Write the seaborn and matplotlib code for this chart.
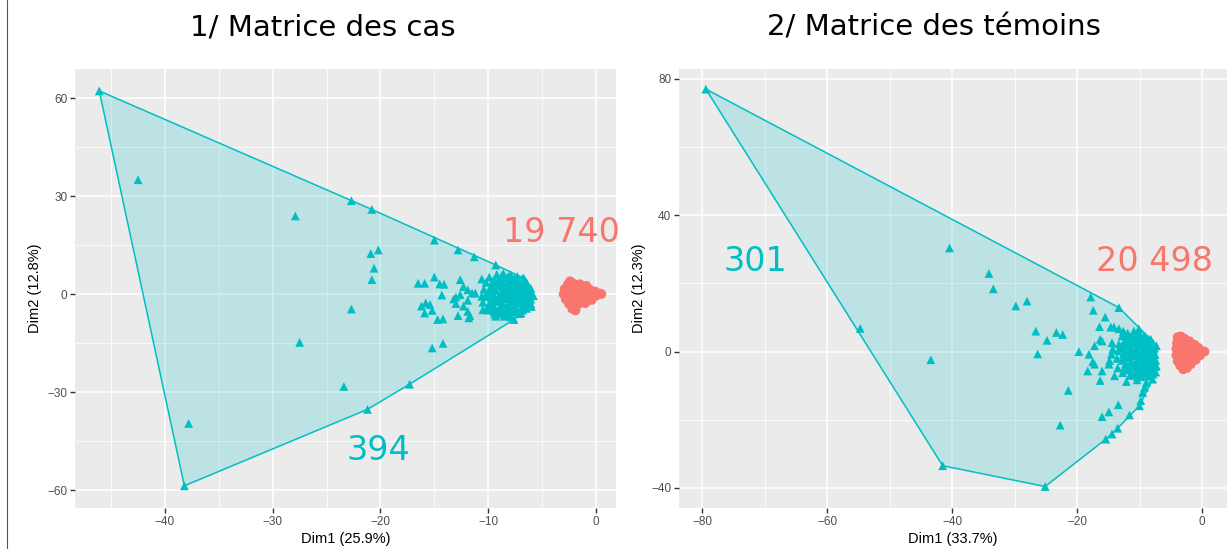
import numpy as np
import pandas as pd
import matplotlib
matplotlib.use("Agg")
import matplotlib.pyplot as plt
from matplotlib.ticker import AutoMinorLocator, FixedLocator
from matplotlib.lines import Line2D
import seaborn as sns

# ---- 1/ Matrice des cas ----
cas_teal_x = [-46.1, -38.2, -21.2, -17.3, -7.6, -5.8, -6.7, -9.3, -11.3, -12.8, -15.0, -20.8, -22.7,
              -42.5, -27.9, -20.9, -20.2, -20.6, -20.8, -22.7, -27.5, -23.4, -37.8, -15.2, -14.2,
              -16.5, -15.9, -15.0, -14.5, -14.1, -14.3, -15.8, -16.2, -15.4, -15.2, -15.9, -14.7, -14.2,
              -13.2, -13.0, -12.6, -12.3, -11.9, -11.5, -12.6, -11.9, -13.0, -12.8, -11.9, -11.7, -11.8,
              -12.3, -11.2, -10.6, -10.1, -9.3, -8.5, -10.5, -9.7, -10.2,
              -9.9, -9.6, -9.8, -9.9, -9.7, -9.9, -9.6, -9.4,
              -9.2, -9.0, -9.1, -9.3, -9.0, -9.2, -8.9, -9.1,
              -8.6, -8.4, -8.6, -8.3, -8.5, -8.4, -8.6, -8.3, -8.5,
              -7.9, -7.8, -8.0, -7.7, -7.9, -7.8, -8.0, -7.7, -7.9,
              -7.3, -7.2, -7.4, -7.1, -7.3, -7.2, -7.4, -7.1,
              -6.8, -6.6, -6.8, -6.5, -6.7, -6.6, -6.8,
              -6.3, -6.1, -6.2, -6.3, -6.0, -5.9,
              -10.4, -10.3, -10.5, -10.2, -10.6, -10.0,
              -9.45, -9.45, -9.45, -9.45, -9.45, -9.45, -9.45,
              -8.75, -8.75, -8.75, -8.75, -8.75, -8.75, -8.75, -8.75,
              -8.15, -8.15, -8.15, -8.15, -8.15, -8.15, -8.15, -8.15,
              -7.55, -7.55, -7.55, -7.55, -7.55, -7.55, -7.55,
              -6.95, -6.95, -6.95, -6.95, -6.95, -6.95, -6.95,
              -6.45, -6.45, -6.45, -6.45, -6.45, -6.45,
              -6.05, -6.05, -6.05, -6.05]
cas_teal_y = [62.2, -58.7, -35.3, -27.6, -7.8, -0.5, 4.9, 8.9, 11.4, 13.5, 16.5, 25.9, 28.6,
              35.0, 23.9, 12.4, 13.5, 7.9, 4.4, -4.6, -14.8, -28.3, -39.6, -16.5, -15.1,
              3.3, 3.3, 5.2, 3.1, 3.0, -0.3, -2.7, -3.7, -3.2, -5.0, -5.8, -7.8, -7.6,
              -1.5, -0.9, 4.4, 2.3, 1.3, 0.3, -0.2, -1.9, -2.9, -6.6, -5.3, -6.6, -7.3,
              -3.7, 0.3, -0.7, -4.2, -6.8, -6.8, -4.8, -4.8, -0.2,
              5.2, 3.8, 2.1, 0.4, -1.3, -3.0, -4.6, -6.2,
              6.0, 4.5, 2.9, 1.2, -0.5, -2.2, -3.8, -5.4,
              6.3, 5.0, 3.5, 2.0, 0.3, -1.4, -3.1, -4.7, -6.5,
              5.9, 4.3, 2.8, 1.1, -0.6, -2.2, -3.9, -5.5, -7.0,
              5.4, 3.7, 2.2, 0.6, -1.0, -2.7, -4.3, -6.0,
              4.8, 3.1, 1.6, 0.0, -1.6, -3.3, -4.9,
              2.6, 1.0, -0.8, -2.4, -3.8, -0.5,
              1.5, -0.8, -2.5, 3.6, 4.6, -4.9,
              4.5, 3.0, 1.3, -0.4, -2.1, -3.8, -5.4,
              5.6, 3.9, 2.2, 0.5, -1.2, -2.9, -4.6, -6.0,
              5.5, 3.8, 2.1, 0.4, -1.3, -3.0, -4.7, -6.3,
              4.9, 3.2, 1.5, -0.2, -1.9, -3.6, -5.3,
              4.2, 2.5, 0.8, -0.9, -2.6, -4.3, -5.8,
              3.6, 1.9, 0.2, -1.5, -3.2, -4.4,
              1.8, 0.2, -1.6, -2.9]
cas_red_x = [-3.0, -2.9, -2.8, -2.6, -2.5, -2.4, -2.2, -1.9,
             -2.4, -2.5, -2.3, -2.4, -2.1, -1.9,
             -1.7, -1.6, -1.8, -1.7, -1.6,
             -1.2, -1.1, -1.3, -1.2, -1.0,
             -0.6, -0.5, -0.6, -0.4,
             -0.1, 0.0, 0.3, 0.5, -1.5, -0.9,
             -2.0, -2.0, -2.0, -1.4, -1.4, -0.8, -0.8, -0.3]
cas_red_y = [0.0, 1.6, -1.6, 3.0, -3.0, 3.9, -4.5, -5.0,
             1.8, 0.5, -1.1, -2.4, 3.2, -3.8,
             2.5, 1.1, -0.3, -1.6, -3.0,
             2.1, 0.7, -0.7, -2.0, -2.8,
             1.4, 0.2, -1.0, -1.8,
             0.8, -0.5, 0.2, 0.0, 3.0, 2.5,
             2.2, 0.2, -1.8, 1.8, -1.2, 1.0, -1.5, 0.6]

# ---- 2/ Matrice des témoins ----
tem_teal_x = [-79.4, -41.5, -25.1, -15.4, -13.5, -11.6, -9.8, -7.9, -7.3, -7.3, -8.2, -10.1, -13.3,
              -40.4, -34.1, -33.4, -29.8, -28.0, -54.7, -43.4, -26.6, -26.3, -24.8, -23.3, -22.3,
              -21.4, -22.7, -17.8, -17.4, -15.5, -16.4, -16.3, -16.0, -17.2, -19.7, -18.1, -17.5,
              -17.2, -18.3, -16.0, -16.3, -14.4, -14.3, -14.5, -14.8, -14.9, -14.0, -12.1, -10.4,
              -14.9, -16.0, -13.4, -14.4, -10.0, -9.5, -9.2, -8.9, -14.6, -14.1, -13.3, -12.6, -11.8,
              -12.8, -12.5, -12.9, -12.6, -12.8, -12.4, -12.7,
              -11.9, -11.6, -11.8, -11.5, -11.7, -11.4, -11.8, -11.5,
              -10.9, -10.7, -10.9, -10.6, -10.8, -10.5, -10.8, -10.6,
              -10.0, -9.8, -10.0, -9.7, -9.9, -9.6, -9.9, -9.7,
              -9.1, -8.9, -9.1, -8.8, -9.0, -8.7, -9.0,
              -8.3, -8.1, -8.3, -8.0, -8.2, -7.9, -8.2,
              -7.6, -7.5, -7.4, -7.5, -7.4,
              -13.4, -13.6, -13.3, -13.5,
              -12.2, -12.2, -12.2, -12.2, -12.2, -12.2,
              -11.3, -11.3, -11.3, -11.3, -11.3, -11.3, -11.3,
              -10.3, -10.3, -10.3, -10.3, -10.3, -10.3, -10.3, -10.3,
              -9.4, -9.4, -9.4, -9.4, -9.4, -9.4, -9.4,
              -8.6, -8.6, -8.6, -8.6, -8.6, -8.6, -8.6,
              -7.8, -7.8, -7.8, -7.8, -7.8, -7.8]
tem_teal_y = [77.0, -33.5, -39.6, -25.7, -22.5, -18.6, -14.4, -8.1, -4.2, 1.7, 3.6, 6.7, 12.9,
              30.4, 22.9, 18.4, 13.4, 14.8, 6.8, -2.4, 6.0, -0.7, 3.3, 5.6, 5.0,
              -11.4, -21.6, 16.0, 12.1, 10.1, 7.3, 3.6, 3.1, 1.7, 0.0, -0.8, -3.0,
              -3.7, -5.7, -5.7, -8.5, 2.6, 0.7, -0.8, -2.7, -3.7, -7.1, -8.8, -8.3,
              -17.7, -19.1, -15.6, -24.2, -15.9, -12.0, -10.5, -9.1, 7.2, 7.2, 6.7, 6.0, 4.4,
              4.6, 2.8, 1.0, -0.8, -2.6, -4.4, -6.2,
              5.4, 3.6, 1.8, 0.0, -1.8, -3.6, -5.4, -7.0,
              6.0, 4.2, 2.4, 0.6, -1.2, -3.0, -4.8, -6.6,
              5.2, 3.4, 1.6, -0.2, -2.0, -3.8, -5.6, -7.4,
              4.4, 2.6, 0.8, -1.0, -2.8, -4.6, -6.4,
              3.4, 1.6, -0.2, -2.0, -3.8, -5.6, -7.2,
              1.0, -0.8, -2.6, -4.4, -6.0,
              0.2, -2.0, 2.2, -4.8,
              3.7, 1.9, 0.1, -1.7, -3.5, -5.3,
              4.5, 2.7, 0.9, -0.9, -2.7, -4.5, -6.3,
              5.1, 3.3, 1.5, -0.3, -2.1, -3.9, -5.7, -7.3,
              4.3, 2.5, 0.7, -1.1, -2.9, -4.7, -6.5,
              3.6, 1.8, 0.0, -1.8, -3.6, -5.4, -7.0,
              2.4, 0.4, -1.4, -3.2, -5.0, -6.6]
tem_red_x = [-3.9, -3.4, -2.8, -2.0, -1.2, -0.5, 0.4, -0.3, -1.0, -1.8, -2.4, -3.0, -3.5, -3.9, -4.1, -4.1, -4.0,
             -3.3, -2.6, -1.8, -1.0, -3.5, -2.8, -2.0, -1.2, -3.5, -2.8, -2.0, -3.3, -2.6, -3.0,
             -3.0, -2.3, -1.5, -0.7, -3.1, -2.4, -1.6, -2.9, -2.2]
tem_red_y = [4.2, 4.4, 3.8, 3.0, 2.0, 0.9, 0.0, -1.1, -2.4, -3.7, -4.8, -5.2, -4.1, -2.8, -1.1, 0.8, 2.5,
             2.8, 2.2, 1.5, 0.5, 1.1, 0.5, -0.2, -0.9, -0.8, -1.5, -2.3, -2.7, -3.4, -4.3,
             3.6, 3.0, 2.1, 1.2, 0.0, -0.6, -1.3, -1.9, -3.0]

titles = ["1/ Matrice des cas", "2/ Matrice des témoins"]
xlabels = ["Dim1 (25.9%)", "Dim1 (33.7%)"]
ylabels = ["Dim2 (12.8%)", "Dim2 (12.3%)"]
counts_red = ["19 740", "20 498"]
counts_teal = ["394", "301"]

TEAL = "#00BFC4"
RED = "#F8766D"


def convex_hull(xs, ys):
    pts = sorted(set(zip(xs, ys)))

    def cross(o, a, b):
        return (a[0] - o[0]) * (b[1] - o[1]) - (a[1] - o[1]) * (b[0] - o[0])

    lower, upper = [], []
    for p in pts:
        while len(lower) >= 2 and cross(lower[-2], lower[-1], p) <= 0:
            lower.pop()
        lower.append(p)
    for p in reversed(pts):
        while len(upper) >= 2 and cross(upper[-2], upper[-1], p) <= 0:
            upper.pop()
        upper.append(p)
    return np.array(lower[:-1] + upper[:-1])


sns.set_theme(style="darkgrid")
plt.rcParams["font.family"] = ["Liberation Sans", "DejaVu Sans"]

fig = plt.figure(figsize=(12.27, 5.49), dpi=100)
ax1 = fig.add_axes([75 / 1227, 41 / 549, 541 / 1227, 439 / 549])
ax2 = fig.add_axes([679 / 1227, 41 / 549, 548 / 1227, 439 / 549])

panels = [
    (ax1, cas_teal_x, cas_teal_y, cas_red_x, cas_red_y, [-40, -30, -20, -10, 0], [60, 30, 0, -30, -60],
     (-48.35, 1.86), (-65.5, 68.9), (-3.2, 18.7), (-20.2, -47.8)),
    (ax2, tem_teal_x, tem_teal_y, tem_red_x, tem_red_y, [-80, -60, -40, -20, 0], [80, 40, 0, -40],
     (-83.7, 4.0), (-45.9, 82.9), (-7.6, 26.4), (-71.5, 26.4)),
]

for i, (ax, tx, ty, rx, ry, xt, yt, xl, yl, red_pos, teal_pos) in enumerate(panels):
    ax.set_facecolor("#EBEBEB")
    hull = convex_hull(tx, ty)
    ax.fill(hull[:, 0], hull[:, 1], facecolor=TEAL, alpha=0.2, edgecolor="none", zorder=1)
    ax.fill(hull[:, 0], hull[:, 1], facecolor="none", edgecolor=TEAL, lw=1.1, zorder=2)

    df = pd.DataFrame({
        "x": list(rx) + list(tx),
        "y": list(ry) + list(ty),
        "cluster": ["1"] * len(rx) + ["2"] * len(tx),
    })
    sns.scatterplot(data=df[df.cluster == "1"], x="x", y="y", ax=ax, color=RED, marker="o",
                    s=50, edgecolor="none", legend=False, zorder=3)
    sns.scatterplot(data=df[df.cluster == "2"], x="x", y="y", ax=ax, color=TEAL, marker="^",
                    s=40, edgecolor="none", legend=False, zorder=3)

    ax.set_xlim(*xl)
    ax.set_ylim(*yl)
    ax.xaxis.set_major_locator(FixedLocator(xt))
    ax.yaxis.set_major_locator(FixedLocator(yt))
    ax.xaxis.set_minor_locator(AutoMinorLocator(2))
    ax.yaxis.set_minor_locator(AutoMinorLocator(2))
    ax.grid(which="major", color="white", lw=1.1)
    ax.grid(which="minor", color="white", lw=0.55)
    ax.set_axisbelow(True)
    for s in ax.spines.values():
        s.set_visible(False)
    ax.tick_params(which="major", length=3.5, width=1.0, color="#333333", labelsize=8.5,
                   labelcolor="#4D4D4D", pad=2, bottom=True, left=True)
    ax.tick_params(which="minor", length=0)
    ax.set_xlabel(xlabels[i], fontsize=10.5, color="black", labelpad=3)
    ax.set_ylabel(ylabels[i], fontsize=10.5, color="black", labelpad=4)

    ax.text(red_pos[0], red_pos[1], counts_red[i], color=RED, fontsize=24, ha="center", va="center",
            family="DejaVu Sans", zorder=4)
    ax.text(teal_pos[0], teal_pos[1], counts_teal[i], color=TEAL, fontsize=24, ha="center", va="center",
            family="DejaVu Sans", zorder=4)

fig.text(323 / 1227, 1 - 28 / 549, titles[0], fontsize=21, ha="center", va="center",
         family="DejaVu Sans", color="black")
fig.text(934 / 1227, 1 - 28 / 549, titles[1], fontsize=21, ha="center", va="center",
         family="DejaVu Sans", color="black")
fig.add_artist(Line2D([7 / 1227, 7 / 1227], [0, 1], color="#555555", lw=0.8))

fig.savefig("out.png", dpi=100)
